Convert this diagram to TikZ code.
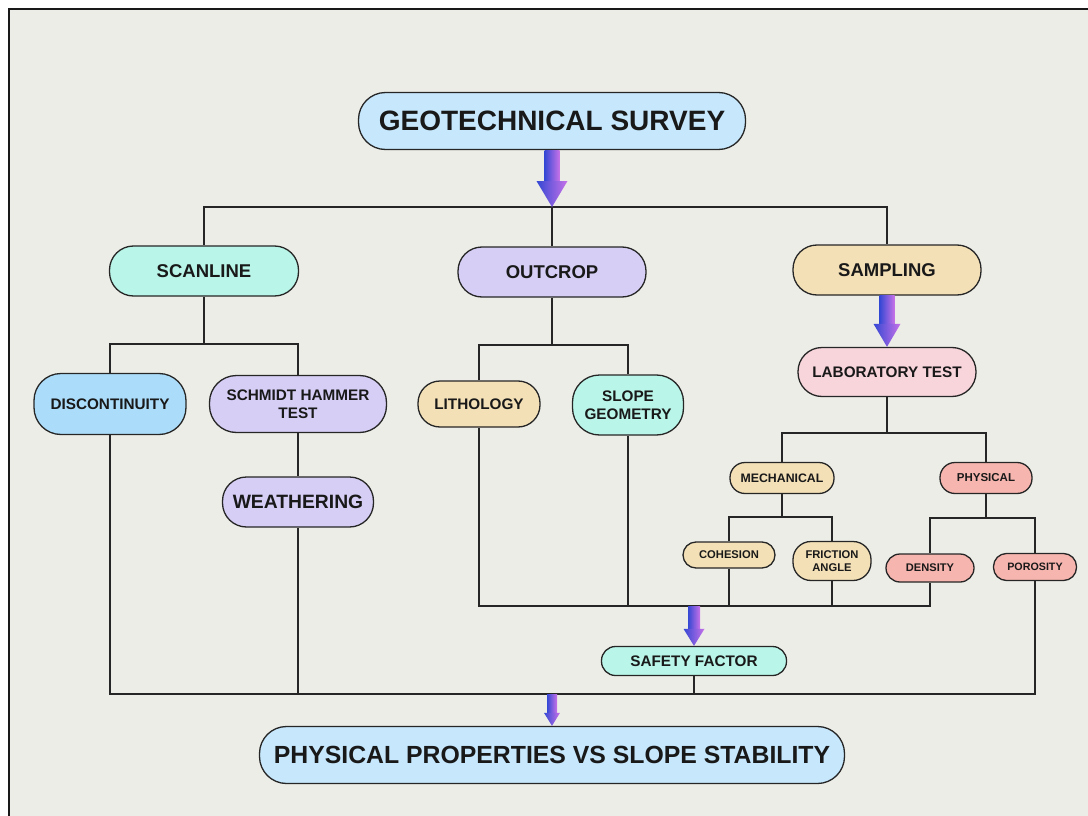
\documentclass[tikz,border=0pt]{standalone}
\usepackage{fontspec}
\setmainfont{Liberation Sans}
\usetikzlibrary{calc}

\definecolor{bgcol}{HTML}{EDEDE8}
\definecolor{skyblue}{HTML}{C6E7FC}
\definecolor{discblue}{HTML}{ABDDFB}
\definecolor{mint}{HTML}{B9F5E8}
\definecolor{lavender}{HTML}{D6CEF5}
\definecolor{sand}{HTML}{F3E0B7}
\definecolor{rose}{HTML}{F8D4DB}
\definecolor{salmon}{HTML}{F7B5AF}
\definecolor{arrowblue}{HTML}{3448D4}
\definecolor{arrowpink}{HTML}{C872E8}

% gradient block arrow: from, to, half shaft, half head, head length
\newcommand{\fatarrow}[5]{%
	\shade[left color=arrowblue, right color=arrowpink]
		let \p1=(#1), \p2=(#2) in
		(\x2-#3,\y1) rectangle (\x2+#3,\y2+#5-0.5);
	\shade[left color=arrowblue, right color=arrowpink]
		let \p2=(#2) in
		(\x2-#4,\y2+#5) -- (\x2,\y2) -- (\x2+#4,\y2+#5) -- cycle;}

\begin{document}
\begin{tikzpicture}[
							x=1pt, y=-1pt,
							box/.style={draw=black!85, line width=1.3pt, inner sep=0pt, text=black!90, align=center},
							conn/.style={line width=1.4pt, draw=black!85},
							txtXL/.style={font=\bfseries\fontsize{28}{32}\selectfont},
							txtL/.style={font=\bfseries\fontsize{18.5}{22}\selectfont},
							txtM/.style={font=\bfseries\fontsize{15.3}{18}\selectfont},
							txtS/.style={font=\bfseries\fontsize{11.5}{13}\selectfont}
						]
						
						\useasboundingbox (0,0) rectangle (1088,816);
						\fill[white] (0,0) rectangle (1088,816);
						\fill[bgcol] (9,9) rectangle (1088,816);
						\draw[line width=2pt, black!90] (9,816) -- (9,9) -- (1088,9);
						
						\node[box, txtXL, fill=skyblue, minimum width=387, minimum height=57, rounded corners=27] (nodeGeo) at (552,121) {GEOTECHNICAL SURVEY};
						
						\node[box, txtL, fill=mint, minimum width=189, minimum height=50, rounded corners=24] (nodeScan) at (204,271) {SCANLINE};
						\node[box, txtL, fill=lavender, minimum width=188, minimum height=50, rounded corners=24] (nodeOutc) at (552,272) {OUTCROP};
						\node[box, txtL, fill=sand, minimum width=188, minimum height=50, rounded corners=24] (nodeSamp) at (887,270) {SAMPLING};
						
						\node[box, txtM, fill=discblue, minimum width=152, minimum height=61, rounded corners=27] (nodeDisc) at (110,404) {DISCONTINUITY};
						\node[box, txtM, fill=lavender, minimum width=177, minimum height=57, rounded corners=27] (nodeSchm) at (298,404) {SCHMIDT HAMMER\\TEST};
						\node[box, font=\bfseries\fontsize{19.3}{22}\selectfont, fill=lavender, minimum width=151, minimum height=50, rounded corners=24] (nodeWeat) at (298,502) {WEATHERING};
						
						\node[box, txtM, fill=sand, minimum width=122, minimum height=46, rounded corners=22] (nodeLith) at (479,404) {LITHOLOGY};
						\node[box, txtM, fill=mint, minimum width=111, minimum height=60, rounded corners=27] (nodeSlope) at (628,405) {SLOPE\\GEOMETRY};
						
						\node[box, txtM, fill=rose, minimum width=178, minimum height=49, rounded corners=24] (nodeLab) at (887,372) {LABORATORY TEST};
						\node[box, font=\bfseries\fontsize{12.3}{14}\selectfont, fill=sand, minimum width=104, minimum height=31, rounded corners=15] (nodeMech) at (782,478) {MECHANICAL};
						\node[box, txtS, fill=salmon, minimum width=92, minimum height=31, rounded corners=15] (nodePhys) at (986,478) {PHYSICAL};
						
						\node[box, font=\bfseries\fontsize{11.2}{12.5}\selectfont, fill=sand, minimum width=92, minimum height=26, rounded corners=13] (nodeCoh) at (729,555) {COHESION};
						\node[box, font=\bfseries\fontsize{11.2}{12.5}\selectfont, fill=sand, minimum width=78, minimum height=39, rounded corners=18] (nodeFric) at (832,561) {FRICTION\\ANGLE};
						\node[box, font=\bfseries\fontsize{11.1}{12.5}\selectfont, fill=salmon, minimum width=88, minimum height=28, rounded corners=14] (nodeDens) at (930,568) {DENSITY};
						\node[box, font=\bfseries\fontsize{10.7}{12.5}\selectfont, fill=salmon, minimum width=83, minimum height=27, rounded corners=13] (nodePoro) at (1035,567) {POROSITY};
						
						\node[box, txtM, fill=mint, minimum width=185, minimum height=29, rounded corners=14] (nodeSafe) at (694,661) {SAFETY FACTOR};
						\node[box, font=\bfseries\fontsize{24.8}{28}\selectfont, fill=skyblue, minimum width=585, minimum height=57, rounded corners=27] (nodeFinal) at (552,755) {PHYSICAL PROPERTIES VS SLOPE STABILITY};
						
						% bus points
						\coordinate (bus0) at (552,207);
						\coordinate (bus1) at (204,344);
						\coordinate (bus2) at (552,345);
						\coordinate (bus3) at (887,433);
						\coordinate (bus4) at (782,517);
						\coordinate (bus5) at (986,518);
						\coordinate (bus6) at (695,606);
						\coordinate (bus7) at (552,694);
						
						\draw[conn] (nodeScan.north) |- (bus0) -| (nodeSamp.north);
						\draw[conn] (bus0) -- (nodeOutc.north);
						
						\draw[conn] (nodeScan.south) -- (bus1);
						\draw[conn] (nodeDisc.north) |- (bus1) -| (nodeSchm.north);
						\draw[conn] (nodeSchm.south) -- (nodeWeat.north);
						
						\draw[conn] (nodeOutc.south) -- (bus2);
						\draw[conn] (nodeLith.north) |- (bus2) -| (nodeSlope.north);
						
						\draw[conn] (nodeLab.south) -- (bus3);
						\draw[conn] (nodeMech.north) |- (bus3) -| (nodePhys.north);
						\draw[conn] (nodeMech.south) -- (bus4);
						\draw[conn] (nodeCoh.north) |- (bus4) -| (nodeFric.north);
						\draw[conn] (nodePhys.south) -- (bus5);
						\draw[conn] (nodeDens.north) |- (bus5) -| (nodePoro.north);
						
						\draw[conn] (nodeLith.south) |- (bus6) -| (nodeDens.south);
						\draw[conn] (nodeSlope.south) -- (nodeSlope.south |- bus6);
						\draw[conn] (nodeCoh.south) -- (nodeCoh.south |- bus6);
						\draw[conn] (nodeFric.south) -- (nodeFric.south |- bus6);
						
						\draw[conn] (nodeDisc.south) |- (bus7) -| (nodePoro.south);
						\draw[conn] (nodeWeat.south) -- (nodeWeat.south |- bus7);
						\draw[conn] (nodeSafe.south) -- (nodeSafe.south |- bus7);
						
						\fatarrow{nodeGeo.south}{bus0}{7.5}{15.5}{26}
						\fatarrow{nodeSamp.south}{nodeLab.north}{7.5}{13.5}{23}
						\fatarrow{bus6}{nodeSafe.north}{6}{10.5}{17}
						\fatarrow{bus7}{nodeFinal.north}{5}{8}{13}
					\end{tikzpicture}
\end{document}
